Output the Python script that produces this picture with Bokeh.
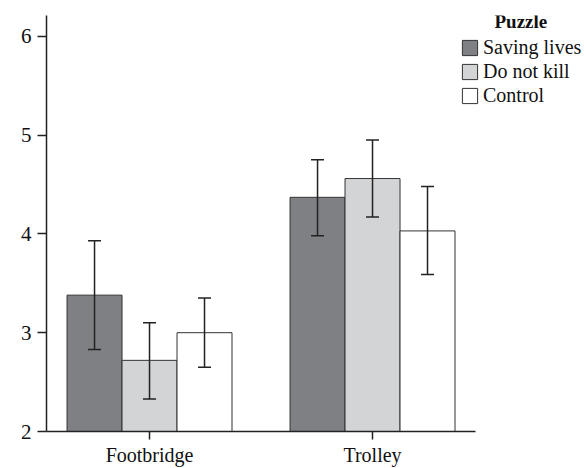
from bokeh.plotting import figure
from bokeh.models import (ColumnDataSource, Range1d, FixedTicker,
                          Legend, LegendItem, Label)
from bokeh.embed import file_html
from bokeh.resources import INLINE

categories = ["Footbridge", "Trolley"]
puzzles = ["Saving lives", "Do not kill", "Control"]
means_saving = [3.38, 4.37]
means_donot = [2.72, 4.56]
means_control = [3.00, 4.03]
upper_saving = [3.93, 4.75]
lower_saving = [2.83, 3.98]
upper_donot = [3.10, 4.95]
lower_donot = [2.33, 4.17]
upper_control = [3.35, 4.48]
lower_control = [2.65, 3.59]
y_ticks = [2, 3, 4, 5, 6]

means = [means_saving, means_donot, means_control]
uppers = [upper_saving, upper_donot, upper_control]
lowers = [lower_saving, lower_donot, lower_control]
colors = ["#7f8084", "#d3d4d6", "#ffffff"]

FONT = "Liberation Serif"
AX = "#222222"

cat_x = [i + 0.5 for i in range(len(categories))]
bar_w = 0.2466
offsets = [-bar_w, 0.0, bar_w]
base = 2.0

p = figure(width=587, height=468, output_backend="svg", toolbar_location=None,
           x_range=Range1d(0.038, 2.464), y_range=Range1d(2.0, 6.21),
           min_border_left=46, min_border_right=0, min_border_top=15,
           min_border_bottom=37)
p.outline_line_color = None
p.xgrid.grid_line_color = None
p.ygrid.grid_line_color = None

items = []
for k, name in enumerate(puzzles):
    xs = [c + offsets[k] for c in cat_x]
    src = ColumnDataSource(dict(x=xs, top=means[k], bottom=[base] * len(xs),
                                upper=uppers[k], lower=lowers[k]))
    r = p.vbar(x="x", top="top", bottom="bottom", width=bar_w, source=src,
               fill_color=colors[k], line_color="#333333", line_width=1)
    p.segment(x0="x", y0="lower", x1="x", y1="upper", source=src,
              line_color=AX, line_width=1.5)
    p.scatter(x="x", y="upper", source=src, marker="dash", size=13,
              line_color=AX, line_width=1.5)
    p.scatter(x="x", y="lower", source=src, marker="dash", size=13,
              line_color=AX, line_width=1.5)
    items.append(LegendItem(label=name, renderers=[r]))

legend = Legend(items=items, location=(414, 324), orientation="vertical",
                glyph_width=19, glyph_height=19, label_height=19,
                label_standoff=4, spacing=1, padding=0, margin=0,
                border_line_color=None, background_fill_alpha=0,
                label_text_font=FONT, label_text_font_size="20px",
                label_text_color="#111111")
p.add_layout(legend)

title = Label(x=448, y=410, x_units="screen", y_units="screen", text="Puzzle",
              text_font=FONT, text_font_size="19px", text_font_style="bold",
              text_color="#111111", text_baseline="alphabetic")
p.add_layout(title)

xa = p.xaxis[0]
xa.ticker = FixedTicker(ticks=cat_x)
xa.major_label_overrides = {c: n for c, n in zip(cat_x, categories)}
xa.bounds = (0.038, 1.96)
xa.minor_tick_line_color = None
xa.major_tick_in = 0
xa.major_tick_out = 8
xa.major_label_standoff = 4
xa.axis_line_width = 1.5
xa.axis_line_color = AX
xa.major_tick_line_color = AX
xa.major_tick_line_width = 1.5
xa.major_label_text_font = FONT
xa.major_label_text_font_size = "20px"
xa.major_label_text_color = "#111111"

ya = p.yaxis[0]
ya.ticker = FixedTicker(ticks=y_ticks)
ya.minor_tick_line_color = None
ya.major_tick_in = 0
ya.major_tick_out = 9
ya.major_label_standoff = 6
ya.axis_line_width = 1.5
ya.axis_line_color = AX
ya.major_tick_line_color = AX
ya.major_tick_line_width = 1.5
ya.major_label_text_font = FONT
ya.major_label_text_font_size = "21px"
ya.major_label_text_color = "#111111"

open("out.html", "w").write(file_html(p, INLINE))
